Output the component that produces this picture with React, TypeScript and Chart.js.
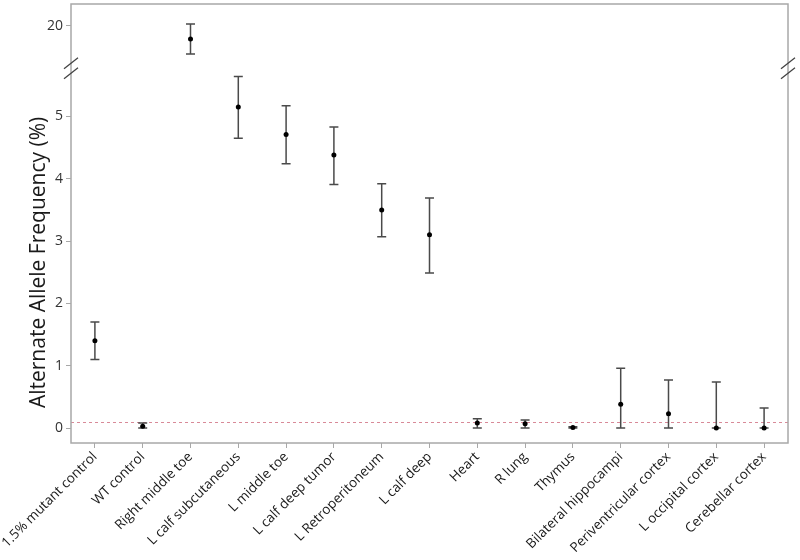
import React, { useEffect, useRef } from "react";
import { Chart, registerables } from "chart.js";

Chart.register(...registerables);

const categories = [
  "1.5% mutant control",
  "WT control",
  "Right middle toe",
  "L calf subcutaneous",
  "L middle toe",
  "L calf deep tumor",
  "L Retroperitoneum",
  "L calf deep",
  "Heart",
  "R lung",
  "Thymus",
  "Bilateral hippocampi",
  "Periventricular cortex",
  "L occipital cortex",
  "Cerebellar cortex",
];
const values = [1.4, 0.03, 19.79, 5.15, 4.71, 4.38, 3.5, 3.1, 0.08, 0.07, 0.01, 0.38, 0.23, 0.0, 0.0];
const lower = [1.1, 0.0, 19.55, 4.65, 4.24, 3.91, 3.07, 2.49, 0.0, 0.0, 0.0, 0.0, 0.0, 0.0, 0.0];
const upper = [1.7, 0.08, 20.03, 5.64, 5.17, 4.83, 3.92, 3.69, 0.15, 0.13, 0.02, 0.96, 0.77, 0.74, 0.32];

const bottomRange = [-0.24, 5.78];
const topRange = [19.33, 20.35];
const bottomTicks = [0, 1, 2, 3, 4, 5];
const topTicks = [20];
const referenceLine = 0.1;
const yTitle = "Alternate Allele Frequency (%)";

const inTop = (v: number) => v > bottomRange[1];
const bottomData = values.map((v) => (inTop(v) ? null : v));
const topData = values.map((v) => (inTop(v) ? v : null));

const FONT = '"Open Sans", sans-serif';
const FRAME = "#a8a8a8";

const drawPlugin = {
  id: "customDraw",
  beforeDatasetsDraw(chart: any) {
    const ctx = chart.ctx;
    const xs = chart.scales.x;
    const yb = chart.scales.yBottom;
    const yt = chart.scales.yTop;
    const area = chart.chartArea;
    ctx.save();
    const yr = Math.round(yb.getPixelForValue(referenceLine)) + 0.5;
    ctx.strokeStyle = "#d88a98";
    ctx.lineWidth = 1;
    ctx.setLineDash([3, 3]);
    ctx.beginPath();
    ctx.moveTo(area.left, yr);
    ctx.lineTo(area.right, yr);
    ctx.stroke();
    ctx.setLineDash([]);
    ctx.strokeStyle = "#4a4a4a";
    ctx.lineWidth = 1.5;
    categories.forEach((_, i) => {
      const sc = inTop(values[i]) ? yt : yb;
      const px = xs.getPixelForValue(i);
      const y1 = sc.getPixelForValue(lower[i]);
      const y2 = sc.getPixelForValue(upper[i]);
      ctx.beginPath();
      ctx.moveTo(px, y1);
      ctx.lineTo(px, y2);
      ctx.moveTo(px - 4.5, y1);
      ctx.lineTo(px + 4.5, y1);
      ctx.moveTo(px - 4.5, y2);
      ctx.lineTo(px + 4.5, y2);
      ctx.stroke();
    });
    ctx.restore();
  },
  afterDraw(chart: any) {
    const ctx = chart.ctx;
    const area = chart.chartArea;
    const yt = chart.scales.yTop;
    const yb = chart.scales.yBottom;
    ctx.save();
    ctx.strokeStyle = FRAME;
    ctx.lineWidth = 1.5;
    ctx.strokeRect(area.left, area.top, area.right - area.left, area.bottom - area.top);
    const by = yt.bottom;
    ctx.strokeStyle = "#444";
    ctx.lineWidth = 1.3;
    [area.left, area.right].forEach((bx: number) => {
      ctx.beginPath();
      ctx.moveTo(bx - 7, by + 1);
      ctx.lineTo(bx + 7, by - 10);
      ctx.moveTo(bx - 7, by + 11);
      ctx.lineTo(bx + 7, by);
      ctx.stroke();
    });
    ctx.fillStyle = "#1a1a1a";
    ctx.font = "21px " + FONT;
    ctx.textAlign = "center";
    ctx.textBaseline = "middle";
    ctx.translate(39, (yb.top + yb.bottom) / 2 + 7);
    ctx.rotate(-Math.PI / 2);
    ctx.fillText(yTitle, 0, 0);
    ctx.restore();
  },
};

export default function App() {
  const ref = useRef<HTMLCanvasElement>(null);
  useEffect(() => {
    if (!ref.current) return;
    const yCommon = (range: number[], ticks: number[], weight: number) => ({
      type: "linear" as const,
      position: "left" as const,
      stack: "y",
      stackWeight: weight,
      min: range[0],
      max: range[1],
      border: { display: false },
      grid: { drawOnChartArea: false, drawTicks: true, tickLength: 5, color: FRAME, lineWidth: 1 },
      ticks: { color: "#333", font: { size: 14, family: FONT }, padding: 3, includeBounds: false },
      afterBuildTicks: (s: any) => {
        s.ticks = ticks.map((v) => ({ value: v }));
      },
      afterFit: (s: any) => {
        s.width = 71;
        s.paddingTop = 0;
        s.paddingBottom = 0;
      },
    });
    const chart = new Chart(ref.current, {
      type: "line",
      data: {
        labels: categories,
        datasets: [
          {
            data: bottomData,
            yAxisID: "yBottom",
            showLine: false,
            pointRadius: 2.5,
            pointBackgroundColor: "#000",
            pointBorderColor: "#000",
            pointBorderWidth: 0,
          },
          {
            data: topData,
            yAxisID: "yTop",
            showLine: false,
            pointRadius: 2.5,
            pointBackgroundColor: "#000",
            pointBorderColor: "#000",
            pointBorderWidth: 0,
          },
        ],
      },
      options: {
        animation: false,
        responsive: false,
        layout: { padding: { top: 3, right: 12, left: 0, bottom: 0 } },
        plugins: { legend: { display: false }, tooltip: { enabled: false } },
        scales: {
          x: {
            type: "category",
            offset: true,
            border: { display: false },
            grid: { drawOnChartArea: false, drawTicks: true, tickLength: 5, color: FRAME, offset: false },
            ticks: {
              color: "#1a1a1a",
              font: { size: 13.5, family: FONT },
              minRotation: 45,
              maxRotation: 45,
              autoSkip: false,
              padding: 1,
            },
            afterFit: (s: any) => {
              s.height = 117;
            },
          },
          yBottom: yCommon(bottomRange, bottomTicks, 376),
          yTop: yCommon(topRange, topTicks, 64),
        },
      },
      plugins: [drawPlugin],
    } as any);
    return () => chart.destroy();
  }, []);
  return (
    <div style={{ position: "absolute", left: 0, top: 0, width: 800, height: 560, background: "#fff" }}>
      <canvas ref={ref} width={800} height={560} style={{ width: 800, height: 560 }} />
    </div>
  );
}
